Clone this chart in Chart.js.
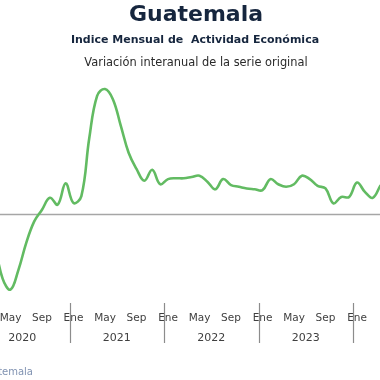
<!DOCTYPE html>
<html><head><meta charset="utf-8">
<script src="https://cdn.jsdelivr.net/npm/chart.js@4/dist/chart.umd.min.js"></script>
<style>html,body{margin:0;padding:0;background:#fff;overflow:hidden}#wrap{width:380px;height:380px;position:relative}</style>
</head><body><div id="wrap"><canvas id="c" width="380" height="380"></canvas></div>
<script>
// ---- data (monthly y/y % change, IMAE Guatemala) ----
const periods = ["2020-03","2020-04","2020-05","2020-06","2020-07","2020-08","2020-09","2020-10","2020-11","2020-12",
 "2021-01","2021-02","2021-03","2021-04","2021-05","2021-06","2021-07","2021-08","2021-09","2021-10","2021-11","2021-12",
 "2022-01","2022-02","2022-03","2022-04","2022-05","2022-06","2022-07","2022-08","2022-09","2022-10","2022-11","2022-12",
 "2023-01","2023-02","2023-03","2023-04","2023-05","2023-06","2023-07","2023-08","2023-09","2023-10","2023-11","2023-12",
 "2024-01","2024-02","2024-03","2024-04"];
const values = [-3.5,-7.6,-8.9,-6.6,-3.4,-0.9,0.5,1.9,1.1,3.6,
 1.3,2.1,8.9,13.9,14.7,13.5,10.4,7.2,5.3,3.9,5.2,3.5,
 4.1,4.2,4.2,4.35,4.5,3.8,2.9,4.1,3.4,3.2,3.0,2.9,
 2.8,4.1,3.5,3.2,3.5,4.5,4.1,3.3,3.0,1.25,2.0,2.0,
 3.7,2.6,1.9,3.4];
const monthTickLabels = ["Ene","May","Sep"];
const yearLabels = ["2020","2021","2022","2023"];
const titleText = "Guatemala";
const subtitleText = "Indice Mensual de  Actividad Económica";
const subtitle2Text = "Variación interanual de la serie original";
const sourceText = "Fuente: Banco de Guatemala";

const firstYear = 2020;
const toIndex = p => (parseInt(p.slice(0,4)) - firstYear) * 12 + parseInt(p.slice(5,7)) - 1;
const points = periods.map((p,i) => ({x: toIndex(p), y: values[i]}));
const lastIndex = toIndex(periods[periods.length - 1]);

const navy = "#16263e";
const overlay = {
  id: "overlay",
  beforeDatasetsDraw(chart) {
    const {ctx, scales:{y}} = chart;
    ctx.save();
    ctx.strokeStyle = "#a6a6a6"; ctx.lineWidth = 1.5;
    const y0 = Math.round(y.getPixelForValue(0)) + 0.5;
    ctx.beginPath(); ctx.moveTo(0, y0); ctx.lineTo(chart.width, y0); ctx.stroke();
    ctx.restore();
  },
  afterDraw(chart) {
    const {ctx, scales:{x}} = chart;
    ctx.save();
    ctx.textAlign = "center"; ctx.textBaseline = "alphabetic";
    ctx.fillStyle = navy;
    ctx.font = "bold 22px 'DejaVu Sans'";
    ctx.fillText(titleText, 196, 21);
    ctx.font = "bold 11px 'DejaVu Sans'";
    ctx.fillText(subtitleText, 195, 43);
    ctx.fillStyle = "#2a2a2a";
    ctx.font = "11.4px 'DejaVu Sans'";
    ctx.fillText(subtitle2Text, 196, 66);
    // month ticks
    ctx.fillStyle = "#404040";
    ctx.font = "10.5px 'DejaVu Sans'";
    for (let m = 0; m <= lastIndex; m += 4) {
      const px = x.getPixelForValue(m);
      if (px < -30) continue;
      ctx.fillText(monthTickLabels[(m % 12) / 4], px, 321);
    }
    // year labels + separators
    ctx.font = "11px 'DejaVu Sans'";
    yearLabels.forEach((yl, i) => {
      ctx.fillText(yl, x.getPixelForValue(i * 12 + 5.5), 341);
      const sx = Math.round(x.getPixelForValue(i * 12 + 11.5)) + 0.5;
      ctx.strokeStyle = "#8c8c8c"; ctx.lineWidth = 1.2;
      ctx.beginPath(); ctx.moveTo(sx, 303); ctx.lineTo(sx, 343); ctx.stroke();
    });
    ctx.textAlign = "right";
    ctx.fillStyle = "#8193b2";
    ctx.font = "10px 'DejaVu Sans'";
    ctx.fillText(sourceText, 33, 375);
    ctx.restore();
  }
};

new Chart(document.getElementById("c"), {
  type: "line",
  data: { datasets: [{ data: points, borderColor: "#62bb62", borderWidth: 2.6,
    pointRadius: 0, tension: 0.4, fill: false }] },
  options: {
    responsive: false, animation: false, events: [],
    layout: { padding: { left: 0, right: 0, top: 80, bottom: 80 } },
    plugins: { legend: { display: false }, tooltip: { enabled: false } },
    scales: {
      x: { type: "linear", display: false, min: 2.667, max: 50.92 },
      y: { display: false, min: -10.12, max: 15.76 }
    }
  },
  plugins: [overlay]
});
</script></body></html>
